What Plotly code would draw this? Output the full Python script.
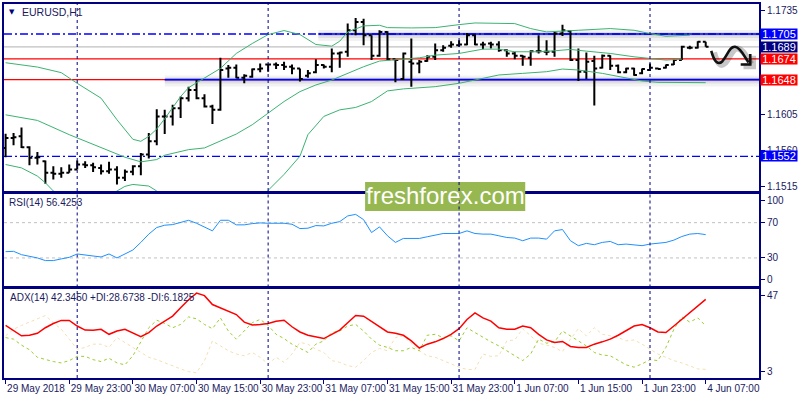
import plotly.graph_objects as go

# ---------------- data ----------------
tick_idx = [0, 8, 16, 24, 32, 40, 48, 56, 64, 72, 80, 88]
tick_text = ["29 May 2018", "29 May 23:00", "30 May 07:00", "30 May 15:00", "30 May 23:00",
             "31 May 07:00", "31 May 15:00", "31 May 23:00", "1 Jun 07:00", "1 Jun 15:00",
             "1 Jun 23:00", "4 Jun 07:00"]
day_starts = [9, 33, 57, 81]

open_ = [1.15626, 1.15750, 1.15771, 1.15634, 1.15502, 1.15460, 1.15315, 1.15303, 1.15315, 1.15357,
         1.15419, 1.15411, 1.15377, 1.15336, 1.15357, 1.15253, 1.15328, 1.15398, 1.15543, 1.15709,
         1.16020, 1.16020, 1.16123, 1.16248, 1.16351, 1.16248, 1.16144, 1.16102, 1.16620, 1.16629,
         1.16504, 1.16517, 1.16608, 1.16670, 1.16670, 1.16662, 1.16641, 1.16620, 1.16529, 1.16571,
         1.16662, 1.16641, 1.16807, 1.16828, 1.17097, 1.17200, 1.17035, 1.16778, 1.17076, 1.16736,
         1.16488, 1.16703, 1.16682, 1.16712, 1.16765, 1.16848, 1.16902, 1.16910, 1.16919, 1.17035,
         1.16919, 1.16931, 1.16919, 1.16848, 1.16807, 1.16778, 1.16753, 1.16836, 1.16828, 1.16828,
         1.17055, 1.17084, 1.16724, 1.16579, 1.16712, 1.16629, 1.16778, 1.16654, 1.16571, 1.16620,
         1.16558, 1.16600, 1.16620, 1.16629, 1.16670, 1.16724, 1.16877, 1.16877, 1.16952]
high = [1.15804, 1.15812, 1.15883, 1.15647, 1.15576, 1.15469, 1.15398, 1.15386, 1.15419, 1.15469,
        1.15460, 1.15440, 1.15419, 1.15452, 1.15398, 1.15357, 1.15411, 1.15564, 1.15812, 1.16111,
        1.16102, 1.16165, 1.16268, 1.16392, 1.16475, 1.16297, 1.16165, 1.16753, 1.16662, 1.16670,
        1.16546, 1.16620, 1.16682, 1.16682, 1.16695, 1.16703, 1.16670, 1.16620, 1.16600, 1.16736,
        1.16670, 1.16869, 1.16828, 1.17180, 1.17250, 1.17242, 1.17035, 1.17097, 1.17084, 1.16736,
        1.16819, 1.16993, 1.16724, 1.16786, 1.16931, 1.16910, 1.16960, 1.16973, 1.17064, 1.17043,
        1.16952, 1.16952, 1.16960, 1.16861, 1.16828, 1.16786, 1.16848, 1.17035, 1.16973, 1.17084,
        1.17167, 1.17097, 1.16869, 1.16819, 1.16778, 1.16794, 1.16786, 1.16670, 1.16629, 1.16629,
        1.16620, 1.16682, 1.16629, 1.16670, 1.16736, 1.16902, 1.16902, 1.16960, 1.16952]
low = [1.15510, 1.15659, 1.15626, 1.15411, 1.15419, 1.15179, 1.15233, 1.15253, 1.15315, 1.15357,
       1.15377, 1.15324, 1.15295, 1.15303, 1.15170, 1.15212, 1.15286, 1.15286, 1.15494, 1.15659,
       1.15800, 1.15908, 1.15999, 1.16206, 1.16235, 1.16132, 1.15924, 1.16090, 1.16504, 1.16496,
       1.16434, 1.16504, 1.16571, 1.16579, 1.16612, 1.16600, 1.16546, 1.16455, 1.16504, 1.16558,
       1.16620, 1.16571, 1.16629, 1.16765, 1.17035, 1.16910, 1.16724, 1.16765, 1.16724, 1.16446,
       1.16475, 1.16392, 1.16558, 1.16703, 1.16724, 1.16828, 1.16877, 1.16890, 1.16910, 1.16910,
       1.16861, 1.16869, 1.16828, 1.16765, 1.16736, 1.16654, 1.16654, 1.16807, 1.16786, 1.16765,
       1.17026, 1.16712, 1.16463, 1.16488, 1.16156, 1.16620, 1.16600, 1.16558, 1.16558, 1.16529,
       1.16546, 1.16587, 1.16608, 1.16620, 1.16662, 1.16724, 1.16861, 1.16869, 1.16890]
close = [1.15750, 1.15759, 1.15634, 1.15502, 1.15510, 1.15315, 1.15303, 1.15315, 1.15357, 1.15419,
         1.15411, 1.15386, 1.15336, 1.15357, 1.15253, 1.15328, 1.15398, 1.15543, 1.15709, 1.16020,
         1.16020, 1.16123, 1.16248, 1.16351, 1.16248, 1.16144, 1.16102, 1.16600, 1.16629, 1.16504,
         1.16529, 1.16608, 1.16620, 1.16670, 1.16662, 1.16641, 1.16620, 1.16488, 1.16558, 1.16662,
         1.16641, 1.16807, 1.16819, 1.17097, 1.17200, 1.17035, 1.16778, 1.17076, 1.16736, 1.16724,
         1.16807, 1.16682, 1.16703, 1.16765, 1.16848, 1.16877, 1.16919, 1.16919, 1.17035, 1.16919,
         1.16919, 1.16919, 1.16848, 1.16807, 1.16778, 1.16765, 1.16836, 1.16836, 1.16828, 1.17055,
         1.17097, 1.16724, 1.16579, 1.16703, 1.16620, 1.16778, 1.16654, 1.16571, 1.16620, 1.16538,
         1.16612, 1.16629, 1.16612, 1.16662, 1.16724, 1.16890, 1.16877, 1.16952, 1.16890]

bb_up_idx = [0, 4, 7, 9, 12, 14, 16, 17, 18, 19, 20, 22, 23, 25, 27, 29, 31, 33, 35, 37, 39, 41,
             42, 43, 45, 47, 48, 51, 54, 57, 59, 64, 66, 68, 70, 72, 76, 79, 81, 83, 86]
bb_upper = [1.16691, 1.16637, 1.16567, 1.16434, 1.16248, 1.15978, 1.15734, 1.15709, 1.15771,
            1.15862, 1.15991, 1.16268, 1.16380, 1.16504, 1.16620, 1.16807, 1.16931, 1.17043,
            1.17093, 1.17043, 1.16919, 1.16898, 1.16960, 1.17076, 1.17151, 1.17159, 1.17130,
            1.17126, 1.17130, 1.17167, 1.17188, 1.17180, 1.17118, 1.17076, 1.17084, 1.17097,
            1.17118, 1.17097, 1.17055, 1.17022, 1.17035]
bb_mid_idx = [0, 4, 8, 12, 15, 17, 19, 20, 23, 25, 27, 29, 31, 33, 35, 37, 39, 41, 43, 45, 47,
              50, 52, 54, 57, 60, 62, 64, 67, 69, 71, 73, 76, 79, 81, 83, 85]
bb_middle = [1.16040, 1.15970, 1.15792, 1.15626, 1.15510, 1.15452, 1.15481, 1.15535, 1.15605,
             1.15626, 1.15709, 1.15800, 1.15916, 1.16061, 1.16206, 1.16330, 1.16413, 1.16475,
             1.16558, 1.16641, 1.16712, 1.16736, 1.16753, 1.16786, 1.16807, 1.16861, 1.16861,
             1.16828, 1.16828, 1.16840, 1.16857, 1.16836, 1.16807, 1.16765, 1.16745, 1.16724,
             1.16736]
bb_low_idx = [0, 2, 4, 5, 6, 8, 10, 12, 14, 15, 16, 18, 19, 21, 24, 27, 30, 33, 35, 37, 38, 40,
              42, 44, 46, 48, 50, 54, 57, 60, 62, 65, 68, 70, 72, 75, 77, 80, 82, 88]
bb_lower = [1.15419, 1.15377, 1.15274, 1.15191, 1.15088, 1.14963, 1.14913, 1.14963, 1.15088,
            1.15146, 1.15170, 1.15150, 1.15088, 1.14880, 1.14590, 1.14508, 1.14673, 1.15096,
            1.15295, 1.15523, 1.15792, 1.16020, 1.16102, 1.16132, 1.16206, 1.16339, 1.16364,
            1.16392, 1.16434, 1.16496, 1.16538, 1.16558, 1.16579, 1.16612, 1.16600, 1.16558,
            1.16517, 1.16463, 1.16446, 1.16442]

rsi = [37.1, 37.5, 33.7, 31.9, 30.0, 27.0, 27.0, 28.9, 30.7, 34.5,
       33.7, 32.2, 31.1, 34.5, 30.0, 34.5, 39.0, 47.6, 57.0, 64.5,
       67.1, 67.8, 70.1, 72.7, 69.3, 65.2, 60.7, 72.7, 72.7, 67.5,
       67.5, 68.9, 69.7, 69.3, 69.3, 69.3, 68.2, 63.3, 63.7, 66.7,
       66.3, 69.3, 71.2, 77.6, 79.4, 73.4, 58.8, 65.2, 55.1, 47.6,
       52.1, 52.1, 52.1, 54.0, 56.2, 57.7, 57.7, 57.7, 60.7, 57.7,
       57.0, 57.0, 55.1, 53.2, 52.5, 49.5, 52.5, 52.5, 51.3, 60.7,
       62.2, 49.5, 43.9, 46.5, 45.0, 47.6, 48.7, 45.0, 45.7, 45.0,
       43.9, 45.7, 46.5, 47.6, 50.2, 54.3, 57.0, 57.7, 56.43]

adx = [28.9, 26.0, 23.5, 23.8, 24.8, 27.7, 29.9, 31.5, 31.5, 28.6,
       26.5, 26.4, 26.9, 24.3, 26.0, 26.9, 25.2, 23.1, 25.2, 28.6,
       31.1, 33.7, 38.0, 42.2, 45.6, 44.3, 39.7, 38.0, 36.2, 34.5,
       30.6, 29.1, 29.4, 29.9, 31.1, 31.6, 28.2, 25.5, 23.8, 23.1,
       22.1, 24.3, 26.5, 30.3, 34.0, 33.7, 31.1, 28.2, 25.5, 24.8,
       23.8, 20.9, 17.2, 19.2, 20.4, 22.1, 24.3, 27.2, 32.0, 35.4,
       32.8, 31.1, 27.7, 26.9, 26.9, 28.6, 27.7, 24.3, 21.4, 20.1,
       20.6, 18.0, 17.5, 17.5, 19.2, 20.4, 21.8, 23.8, 26.0, 28.6,
       29.4, 27.7, 25.5, 25.2, 28.6, 32.0, 35.7, 39.1, 42.35]
plus_di = [22.6, 21.8, 18.7, 16.3, 12.4, 11.2, 10.2, 9.5, 10.7, 12.9,
           12.9, 11.2, 10.2, 11.9, 9.5, 8.5, 13.2, 20.4, 27.7, 31.6,
           29.9, 27.7, 29.4, 33.3, 32.3, 29.4, 27.2, 32.8, 26.0, 21.8,
           26.0, 30.3, 32.0, 28.9, 24.3, 22.1, 19.2, 17.0, 14.9, 19.2,
           20.9, 25.2, 26.0, 28.6, 29.4, 26.0, 21.8, 18.7, 17.5, 15.8,
           15.8, 17.5, 15.8, 23.8, 24.3, 22.6, 23.5, 20.9, 27.7, 25.2,
           22.6, 20.4, 18.3, 15.8, 13.2, 10.7, 14.1, 21.8, 19.7, 20.4,
           26.0, 23.5, 20.9, 18.3, 14.9, 13.6, 13.2, 10.7, 8.5, 7.3,
           9.0, 11.2, 10.7, 17.5, 26.9, 33.3, 30.6, 32.8, 28.67]
minus_di = [23.5, 26.9, 28.9, 30.6, 32.3, 34.0, 30.3, 26.9, 21.8, 16.6,
            17.5, 19.2, 19.2, 17.5, 22.6, 20.1, 17.5, 14.9, 12.4, 11.2,
            9.5, 8.1, 6.4, 5.0, 4.4, 10.7, 20.9, 18.3, 15.8, 14.1,
            13.2, 14.9, 12.4, 9.0, 12.4, 9.8, 14.1, 20.1, 19.2, 16.6,
            14.9, 10.7, 9.8, 8.1, 7.3, 10.7, 14.9, 17.0, 15.8, 22.6,
            23.5, 19.7, 15.8, 13.2, 12.4, 10.7, 9.0, 7.3, 6.1, 6.1,
            14.1, 12.9, 13.2, 20.9, 21.4, 27.2, 23.5, 19.7, 18.7, 17.5,
            15.3, 21.8, 27.2, 23.5, 27.7, 24.3, 23.5, 22.6, 20.9, 21.4,
            19.2, 16.6, 14.1, 12.4, 10.7, 9.5, 7.8, 6.4, 6.18]

# horizontal levels
level_prices = [1.1705, 1.1689, 1.1674, 1.1648, 1.1552]
level_colors = ["#0000FF", "#C0C0C0", "#FF0000", "#FF0000", "#0000FF"]
level_dash = ["8px,3px,2px,3px", "solid", "solid", "solid", "8px,3px,2px,3px"]
label_bg = ["#0000FF", "#000080", "#FF0000", "#FF0000", "#0000FF"]
label_text = ["1.1705", "1.1689", "1.1674", "1.1648", "1.1552"]
# blue drawn lines (with shadow) : price and starting bar
trend_prices = [1.1705, 1.1648]
trend_start = [39.3, 20.0]

price_ticks = [1.1735, 1.1605, 1.1560, 1.1515]

# ---------------- figure ----------------
n = len(close)
idx = list(range(n))
NAVY = "#000080"
TXT = "#1a1a60"
FONT = "Liberation Sans"

fig = go.Figure()

bb_color = "#3CB371"
for xs, ys in [(bb_up_idx, bb_upper), (bb_mid_idx, bb_middle), (bb_low_idx, bb_lower)]:
    fig.add_trace(go.Scatter(x=xs, y=ys, mode="lines", line=dict(color=bb_color, width=1),
                             xaxis="x", yaxis="y", hoverinfo="skip"))

fig.add_trace(go.Ohlc(x=idx, open=open_, high=high, low=low, close=close,
                      increasing=dict(line=dict(color="black", width=2)),
                      decreasing=dict(line=dict(color="black", width=2)),
                      tickwidth=0.36, xaxis="x", yaxis="y", hoverinfo="skip"))

fig.add_trace(go.Scatter(x=idx, y=rsi, mode="lines", line=dict(color="#1E90FF", width=1),
                         xaxis="x2", yaxis="y2", hoverinfo="skip"))

fig.add_trace(go.Scatter(x=idx, y=minus_di, mode="lines",
                         line=dict(color="#F5DEB3", width=1, dash="3px,3px"),
                         xaxis="x3", yaxis="y3", hoverinfo="skip"))
fig.add_trace(go.Scatter(x=idx, y=plus_di, mode="lines",
                         line=dict(color="#9ACD32", width=1, dash="3px,3px"),
                         xaxis="x3", yaxis="y3", hoverinfo="skip"))
fig.add_trace(go.Scatter(x=idx, y=adx, mode="lines", line=dict(color="#FF0000", width=1.5),
                         xaxis="x3", yaxis="y3", hoverinfo="skip"))

shapes = []
px_price = 1 / 8045.0
# shadows of the drawn blue lines
for p, s in zip(trend_prices, trend_start):
    for w, a, off in [(11, 0.05, 1.5), (6, 0.07, 1.0), (3, 0.08, 0.5)]:
        shapes.append(dict(type="line", xref="x", yref="y", x0=s, x1=95,
                           y0=p - off * px_price, y1=p - off * px_price,
                           line=dict(color=f"rgba(0,0,0,{a})", width=w), layer="below"))
for p, c, d in zip(level_prices, level_colors, level_dash):
    shapes.append(dict(type="line", xref="x domain", yref="y", x0=0, x1=1, y0=p, y1=p,
                       line=dict(color=c, width=1.3, dash=d), layer="below"))
for p, s in zip(trend_prices, trend_start):
    shapes.append(dict(type="line", xref="x", yref="y", x0=s, x1=95, y0=p, y1=p,
                       line=dict(color="#0000FF", width=1.6), layer="below"))

# RSI levels
for lv in [70, 30]:
    shapes.append(dict(type="line", xref="x2 domain", yref="y2", x0=0, x1=1, y0=lv, y1=lv,
                       line=dict(color="#C0C0C0", width=1, dash="3px,3px"), layer="below"))

# watermark box
W_PLOT = 759.0
def xp(px):
    return (px - 2) / W_PLOT
def yp(py):
    return (378 - py) / 376.0

shapes.append(dict(type="rect", xref="paper", yref="paper", x0=xp(365), x1=xp(526),
                   y0=yp(210), y1=yp(181), fillcolor="#97B850", line=dict(width=0), layer="above"))

# day separators in every panel
for d in day_starts:
    for xr, yr in [("x", "y domain"), ("x2", "y2 domain"), ("x3", "y3 domain")]:
        shapes.append(dict(type="line", xref=xr, yref=yr, x0=d, x1=d, y0=0, y1=1,
                           line=dict(color=NAVY, width=1, dash="3px,3px"), layer="above"))

# wavy arrow (drawn object)
arrow_path = ("M 88.7,1.16840 C 89.1,1.16690 89.6,1.16660 90.1,1.16710 "
              "C 90.8,1.16790 91.0,1.16900 91.7,1.16890 C 92.4,1.16880 92.9,1.16760 93.4,1.16695")
arrow_head = "M 93.6,1.16800 L 93.6,1.16668 L 92.4,1.16668"
sh_dx, sh_dy = 0.35, -0.00022
def shift_path(path, dx, dy):
    out = []
    for tok in path.split(" "):
        if "," in tok:
            a, b = tok.split(",")
            out.append(f"{float(a)+dx:.4f},{float(b)+dy:.6f}")
        else:
            out.append(tok)
    return " ".join(out)
for pth in [arrow_path, arrow_head]:
    shapes.append(dict(type="path", xref="x", yref="y", path=shift_path(pth, sh_dx, sh_dy),
                       line=dict(color="rgba(0,0,0,0.22)", width=6), layer="above"))
for pth in [arrow_path, arrow_head]:
    shapes.append(dict(type="path", xref="x", yref="y", path=pth,
                       line=dict(color="#111111", width=2.6), layer="above"))

annotations = []
for p, bg, t in zip(level_prices, label_bg, label_text):
    annotations.append(dict(xref="paper", yref="y", x=1, y=p, xanchor="left", yanchor="middle",
                            xshift=1, text=t, showarrow=False, bgcolor=bg, width=36, height=10,
                            align="center", borderpad=0,
                            font=dict(family=FONT, size=11, color="white")))
annotations.append(dict(xref="paper", yref="paper", x=xp(18), y=yp(10), xanchor="left",
                        yanchor="middle", text="EURUSD,H1", showarrow=False,
                        font=dict(family=FONT, size=10.5, color=TXT)))
annotations.append(dict(xref="paper", yref="paper", x=xp(5), y=yp(10), xanchor="left",
                        yanchor="middle", text="▼", showarrow=False,
                        font=dict(family="DejaVu Sans", size=7, color=NAVY)))
annotations.append(dict(xref="paper", yref="paper", x=xp(5), y=yp(202), xanchor="left",
                        yanchor="middle", text="RSI(14) 56.4253", showarrow=False,
                        font=dict(family=FONT, size=10, color=TXT)))
annotations.append(dict(xref="paper", yref="paper", x=xp(6), y=yp(297), xanchor="left",
                        yanchor="middle", text="ADX(14) 42.3450 +DI:28.6738 -DI:6.1825",
                        showarrow=False, font=dict(family=FONT, size=10, color=TXT)))
annotations.append(dict(xref="paper", yref="paper", x=(xp(365) + xp(526)) / 2, y=yp(195),
                        xanchor="center", yanchor="middle", text="freshforex.com",
                        showarrow=False, font=dict(family=FONT, size=24, color="white")))

x_range = [-0.2, 94.7]
axis_common = dict(showline=True, mirror=True, linecolor=NAVY, linewidth=2,
                   showgrid=False, zeroline=False)
tickfont = dict(family=FONT, size=10, color=TXT)

fig.update_layout(
    width=800, height=400,
    margin=dict(l=2, r=39, t=2, b=22),
    paper_bgcolor="white", plot_bgcolor="white",
    showlegend=False,
    shapes=shapes, annotations=annotations,
    xaxis=dict(domain=[0, 1], anchor="y", range=x_range, showticklabels=False, ticks="",
               rangeslider=dict(visible=False), **axis_common),
    xaxis2=dict(domain=[0, 1], anchor="y2", matches="x", range=x_range, showticklabels=False,
                ticks="", **axis_common),
    xaxis3=dict(domain=[0, 1], anchor="y3", matches="x", range=x_range, tickmode="array",
                tickvals=tick_idx, ticktext=tick_text, ticks="outside", ticklen=4,
                tickcolor=NAVY, ticklabelposition="outside right", tickangle=0,
                tickfont=tickfont, **axis_common),
    yaxis=dict(domain=[yp(190), yp(2)], anchor="x", side="right", range=[1.15088, 1.17425],
               tickmode="array", tickvals=price_ticks, ticktext=[f"{v:.4f}" for v in price_ticks],
               ticks="outside", ticklen=4, tickcolor=NAVY, tickfont=tickfont, **axis_common),
    yaxis2=dict(domain=[yp(287), yp(193)], anchor="x2", side="right", range=[-3.5, 102.5],
                tickmode="array", tickvals=[94.6, 70, 30, 5.5], ticktext=["100", "70", "30", "0"],
                ticks="outside", ticklen=4, tickcolor=NAVY, tickfont=tickfont, **axis_common),
    yaxis3=dict(domain=[0, yp(288)], anchor="x3", side="right", range=[1.7, 48],
                tickmode="array", tickvals=[44.4, 5.0], ticktext=["47", "3"],
                ticks="outside", ticklen=4, tickcolor=NAVY, tickfont=tickfont, **axis_common),
)

fig.write_html("out.html", config={"displayModeBar": False},
               post_script="document.body.style.margin='0';document.body.style.overflow='hidden';")
